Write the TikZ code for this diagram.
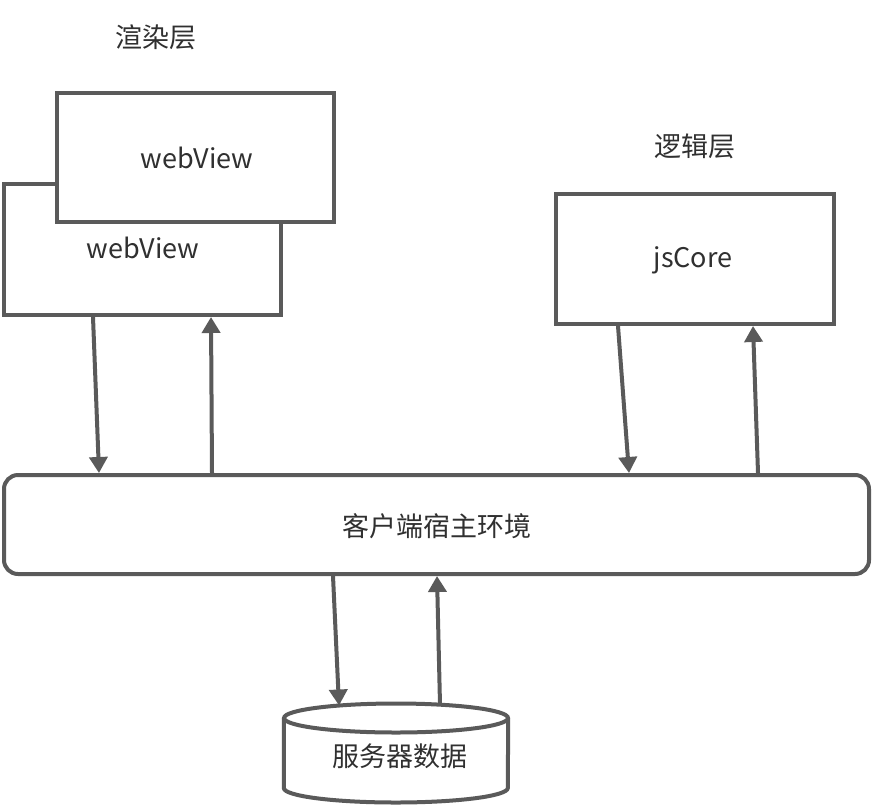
\documentclass[tikz,border=0pt]{standalone}
\usepackage{fontspec}
\newfontfamily\cjk{Noto Sans CJK SC}
\usetikzlibrary{arrows.meta}
\definecolor{lc}{HTML}{5A5A5A}
\definecolor{tc}{HTML}{303030}
\tikzset{
  box/.style={draw=lc, line width=4pt, fill=white, inner sep=0pt},
  lbl/.style={text=tc, font=\cjk\fontsize{27}{31}\selectfont, inner sep=0pt},
  conn/.style={draw=lc, line width=4pt, -{Triangle[length=16pt,width=18pt]}},
}
\begin{document}
\begin{tikzpicture}[x=1pt,y=-1pt]
\useasboundingbox (0,0) rectangle (874,806);
% back webView
\node[box, minimum width=277pt, minimum height=131pt] (back) at (142.5,249.5) {};
\node[lbl] (backt) at (143,248) {webView};
% front webView
\node[box, minimum width=277pt, minimum height=129pt] (front) at (195.5,157.5) {};
\node[lbl] (frontt) at (197,158) {webView};
% jsCore
\node[box, minimum width=278pt, minimum height=130pt] (js) at (695,259) {};
\node[lbl] (jst) at (693,260) {jsCore};
% host
\node[box, rounded corners=14pt, minimum width=865pt, minimum height=99pt] (host) at (436.5,524.5) {};
\node[lbl] (hostt) at (437,526) {客户端宿主环境};
% labels
\node[lbl] (render) at (155.5,37) {渲染层};
\node[lbl] (logic) at (695,146) {逻辑层};
% database cylinder
\node[inner sep=0pt, minimum width=224pt, minimum height=98pt] (db) at (396,753) {};
\draw[lc, line width=4pt, fill=white] (db.west |- 0,718) -- (db.west |- 0,788)
  arc[start angle=180, end angle=360, x radius=112pt, y radius=14.5pt]
  -- (db.east |- 0,718);
\draw[lc, line width=4pt, fill=white] (396,718) ellipse[x radius=112pt, y radius=14.5pt];
\node[lbl] (dbt) at (400,756) {服务器数据};
\coordinate (dbtopA) at (339,705.5);
\coordinate (dbtopB) at (440,704.7);
% connectors
\draw[conn] ([xshift=-49.5pt]back.south) -- ([xshift=-337.5pt]host.north);
\draw[conn] ([xshift=-224.5pt]host.north) -- ([xshift=68.5pt]back.south);
\draw[conn] ([xshift=-77pt]js.south) -- ([xshift=192.5pt]host.north);
\draw[conn] ([xshift=321.5pt]host.north) -- ([xshift=58pt]js.south);
\draw[conn] ([xshift=-103.5pt]host.south) -- (dbtopA);
\draw[conn] (dbtopB) -- ([xshift=0.5pt]host.south);
\end{tikzpicture}
\end{document}
